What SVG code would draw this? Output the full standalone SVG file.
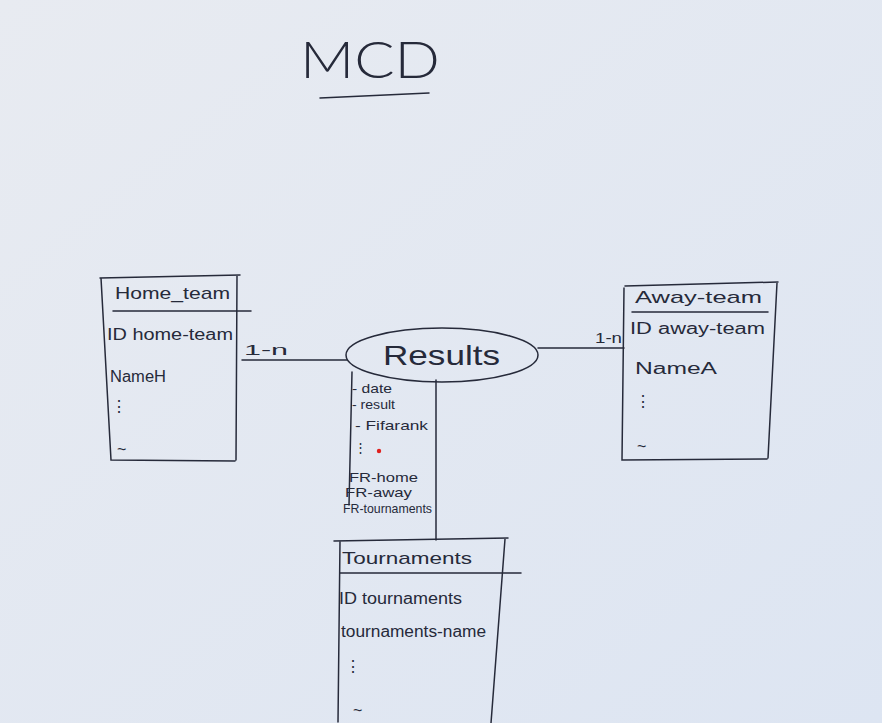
<svg xmlns="http://www.w3.org/2000/svg" width="882" height="723" viewBox="0 0 882 723">
<defs>
<linearGradient id="bg" x1="0" y1="0" x2="1" y2="1">
<stop offset="0" stop-color="#e8ebf1"/>
<stop offset="1" stop-color="#dde5f2"/>
</linearGradient>
<style>
.ink{fill:none;stroke:#262a3a;stroke-width:1.5;stroke-linecap:round}
.t{font-family:"Liberation Sans",Arial,sans-serif;fill:#262a3a}
.h{font-size:17px}
.a{font-size:16px}
.s{font-size:13px}
</style>
</defs>
<rect width="882" height="723" fill="url(#bg)"/>
<g id="title">
<text x="300" y="78" font-family="Lato,Inter,'Liberation Sans',sans-serif" fill="#262a3a" font-size="52" font-weight="300" textLength="140" lengthAdjust="spacingAndGlyphs">MCD</text>
<path class="ink" d="M320 98 L429 93"/>
</g>
<g id="connectors">
<path class="ink" d="M242 360 L347 360"/>
<text class="t" font-size="15" x="244" y="355" textLength="44" lengthAdjust="spacingAndGlyphs">1-n</text>
<path class="ink" d="M538 348 L624 348"/>
<text class="t" font-size="14" x="595" y="343" textLength="27" lengthAdjust="spacingAndGlyphs">1-n</text>
<path class="ink" d="M436 380 L436 540"/>
</g>
<g id="home-team">
<path class="ink" d="M100 278 L240 275 M101 278 L111 460 L235 461 M237 276 L236 460 M113 311 L251 311"/>
<text class="t h" x="115" y="299" textLength="115" lengthAdjust="spacingAndGlyphs">Home_team</text>
<text class="t a" x="107" y="340" textLength="126" lengthAdjust="spacingAndGlyphs">ID home-team</text>
<text class="t a" x="110" y="382" textLength="56" lengthAdjust="spacingAndGlyphs">NameH</text>
<text class="t a" x="111" y="412">⋮</text>
<text class="t a" x="117" y="455">~</text>
</g>
<g id="results">
<ellipse class="ink" cx="442" cy="355" rx="96" ry="27"/>
<text class="t" x="383" y="365" font-size="28" textLength="117" lengthAdjust="spacingAndGlyphs">Results</text>
<path class="ink" d="M352 372 L349 505"/>
<text class="t s" x="352" y="393" textLength="40" lengthAdjust="spacingAndGlyphs">- date</text>
<text class="t s" x="352" y="409" textLength="43" lengthAdjust="spacingAndGlyphs">- result</text>
<text class="t s" x="355" y="430" textLength="73" lengthAdjust="spacingAndGlyphs">- Fifarank</text>
<text class="t s" x="354" y="452">⋮</text>
<circle cx="379" cy="451" r="2.2" fill="#e0201e"/>
<text class="t s" x="349" y="482" textLength="69" lengthAdjust="spacingAndGlyphs">FR-home</text>
<text class="t s" x="345" y="497" textLength="67" lengthAdjust="spacingAndGlyphs">FR-away</text>
<text class="t s" x="343" y="513" textLength="89" lengthAdjust="spacingAndGlyphs">FR-tournaments</text>
</g>
<g id="away-team">
<path class="ink" d="M625 286 L778 282 M624 288 L622 460 L767 459 M777 283 L768 458 M632 312 L768 312"/>
<text class="t h" x="635" y="303" textLength="127" lengthAdjust="spacingAndGlyphs">Away-team</text>
<text class="t a" x="630" y="334" textLength="135" lengthAdjust="spacingAndGlyphs">ID away-team</text>
<text class="t a" x="635" y="374" textLength="82" lengthAdjust="spacingAndGlyphs">NameA</text>
<text class="t a" x="635" y="407">⋮</text>
<text class="t a" x="637" y="452">~</text>
</g>
<g id="tournaments">
<path class="ink" d="M334 541 L508 538 M340 541 L338 722 M505 539 L491 723 M340 573 L521 573"/>
<text class="t h" x="342" y="564" textLength="130" lengthAdjust="spacingAndGlyphs">Tournaments</text>
<text class="t a" x="339" y="604" textLength="123" lengthAdjust="spacingAndGlyphs">ID tournaments</text>
<text class="t a" x="341" y="637" textLength="145" lengthAdjust="spacingAndGlyphs">tournaments-name</text>
<text class="t a" x="345" y="672">⋮</text>
<text class="t a" x="353" y="716">~</text>
</g>
</svg>
